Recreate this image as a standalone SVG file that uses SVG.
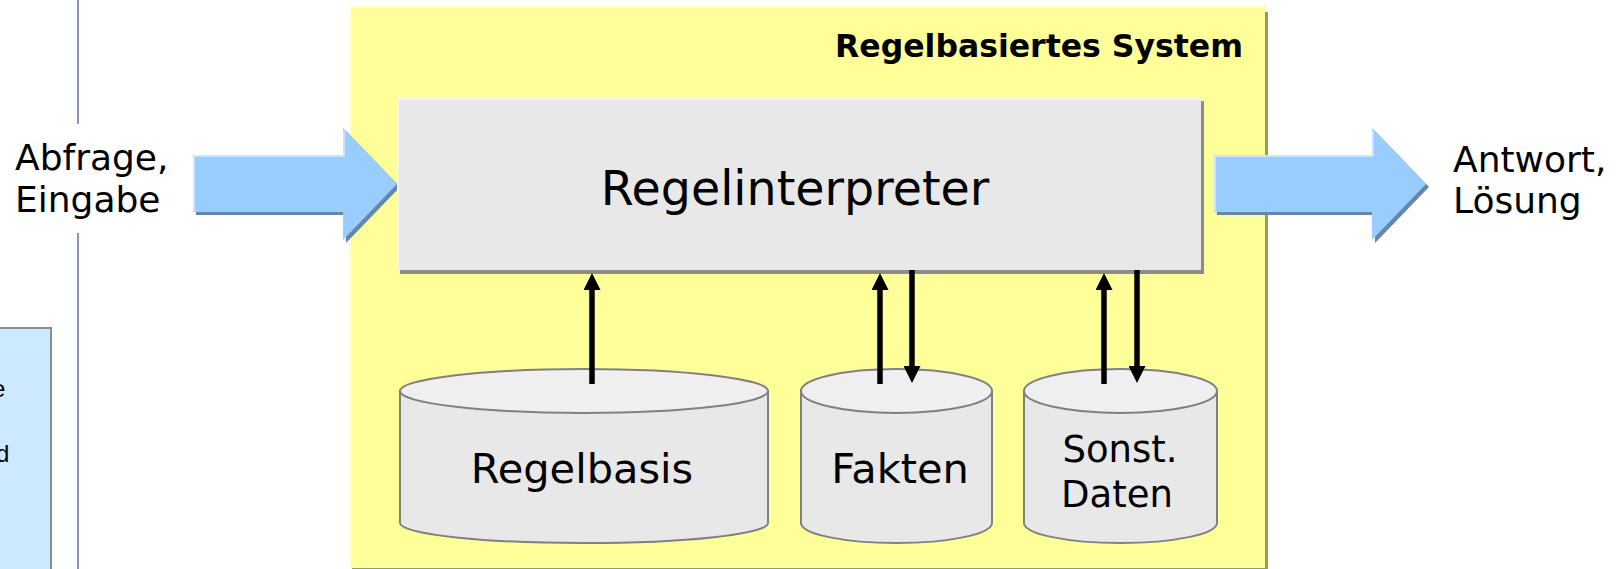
<svg xmlns="http://www.w3.org/2000/svg" width="1619" height="569" viewBox="0 0 1619 569">
<style>
text{font-family:"DejaVu Sans",Verdana,sans-serif;fill:#000}
.cyl{fill:#e8e8e8;stroke:#808080;stroke-width:2}
.cyltop{fill:#efefef;stroke:#808080;stroke-width:2}
.big{font-size:36px}
.db{font-size:41.5px;text-anchor:middle}
.conn{stroke:#000;stroke-width:5.5;fill:none;marker-end:url(#ah)}
.barrow{fill:#99ccff}
.bshadow{fill:#6585ad}
.bhl{fill:none;stroke:#c8e4ff;stroke-width:2}
</style>
<defs>
<marker id="ah" viewBox="0 0 17 17" refX="5" refY="8.5" markerUnits="userSpaceOnUse" markerWidth="17" markerHeight="17" orient="auto">
<path d="M0,0 L17,8.5 L0,17 Z" fill="#000"/>
</marker>
</defs>
<rect width="1619" height="569" fill="#fff"/>

<g id="sidebar">
<line x1="78" y1="0" x2="78" y2="124" stroke="#5577a8" stroke-width="1.5"/>
<line x1="78" y1="233" x2="78" y2="569" stroke="#5577a8" stroke-width="1.5"/>
<rect x="-10" y="328" width="61" height="260" fill="#cce9ff" stroke="#8c8c8c" stroke-width="2"/>
<text x="-8" y="397" style="font-family:'Liberation Sans',Arial,sans-serif;font-size:24px">e</text>
<text x="-4" y="462" style="font-family:'Liberation Sans',Arial,sans-serif;font-size:24px">d</text>
</g>

<g id="system">
<rect x="352" y="12" width="916" height="560" fill="#999966"/>
<rect x="349" y="6" width="916" height="562" fill="#ffff99"/>
<line x1="350" y1="7" x2="350" y2="568" stroke="#ffffc4" stroke-width="2"/>
<line x1="349" y1="7" x2="1264" y2="7" stroke="#ffffc4" stroke-width="2"/>
<text x="1243" y="57" text-anchor="end" style="font-size:31.5px;font-weight:bold">Regelbasiertes System</text>
</g>

<g id="input">
<polygon class="bshadow" transform="translate(3,3)" points="193,155 343,155 343,128 397,184 343,240 343,212 193,212"/>
<polygon class="barrow" points="193,155 343,155 343,128 397,184 343,240 343,212 193,212"/>
<polyline class="bhl" points="194,211 194,156 344,156 344,131"/>
<text class="big" x="15" y="170">Abfrage,</text>
<text class="big" x="15" y="212">Eingabe</text>
</g>

<g id="output">
<polygon class="bshadow" transform="translate(3,3)" points="1214,155 1372,155 1372,128 1426,184 1372,240 1372,212 1214,212"/>
<polygon class="barrow" points="1214,155 1372,155 1372,128 1426,184 1372,240 1372,212 1214,212"/>
<polyline class="bhl" points="1215,211 1215,156 1373,156 1373,131"/>
<text class="big" x="1453" y="172">Antwort,</text>
<text class="big" x="1453" y="213">Lösung</text>
</g>

<g id="interpreter">
<rect x="400" y="101" width="804" height="173" fill="#8c8c8c"/>
<rect x="397" y="98" width="804" height="172" fill="#e8e8e8"/>
<polyline points="398,269 398,99 1200,99" fill="none" stroke="#f4f4f4" stroke-width="2"/>
<text x="795" y="205" text-anchor="middle" style="font-size:47.5px">Regelinterpreter</text>
</g>

<g id="regelbasis">
<path class="cyl" d="M400,391 L400,523 A184,20 0 0 0 768,523 L768,391 Z"/>
<ellipse class="cyltop" cx="584" cy="391" rx="184" ry="22"/>
<text class="db" x="582" y="483">Regelbasis</text>
</g>

<g id="fakten">
<path class="cyl" d="M801,391 L801,523 A95.5,20 0 0 0 992,523 L992,391 Z"/>
<ellipse class="cyltop" cx="896.5" cy="391" rx="95.5" ry="22"/>
<text class="db" x="900" y="483">Fakten</text>
</g>

<g id="daten">
<path class="cyl" d="M1024,391 L1024,523 A96.5,20 0 0 0 1217,523 L1217,391 Z"/>
<ellipse class="cyltop" cx="1120.5" cy="391" rx="96.5" ry="22"/>
<text x="1120" y="462" text-anchor="middle" style="font-size:37px">Sonst.</text>
<text x="1117" y="507" text-anchor="middle" style="font-size:37px">Daten</text>
</g>

<g id="connectors">
<line class="conn" x1="592" y1="384" x2="592" y2="285"/>
<line class="conn" x1="880" y1="384" x2="880" y2="285"/>
<line class="conn" x1="912" y1="270" x2="912" y2="371"/>
<line class="conn" x1="1104" y1="384" x2="1104" y2="285"/>
<line class="conn" x1="1137" y1="270" x2="1137" y2="371"/>
</g>
</svg>
